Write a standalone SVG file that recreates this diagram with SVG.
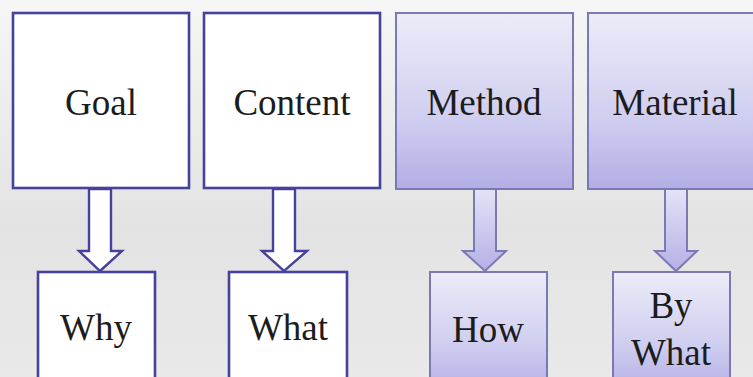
<svg xmlns="http://www.w3.org/2000/svg" width="753" height="377" viewBox="0 0 753 377">
<defs>
<linearGradient id="bg" x1="0" y1="0" x2="0" y2="1">
<stop offset="0" stop-color="#f6f6f6"/>
<stop offset="0.6" stop-color="#e3e3e3"/>
<stop offset="1" stop-color="#e9e9e9"/>
</linearGradient>
<linearGradient id="pur" x1="0" y1="0" x2="0" y2="1">
<stop offset="0" stop-color="#ececf8"/>
<stop offset="0.6" stop-color="#d0cef0"/>
<stop offset="1" stop-color="#b2aee5"/>
</linearGradient>
<linearGradient id="purArrow" x1="0" y1="0" x2="0" y2="1">
<stop offset="0" stop-color="#e4e3f6"/>
<stop offset="1" stop-color="#b4b0e6"/>
</linearGradient>
<style>
.wbox{fill:#ffffff;stroke:#45419c;stroke-width:2.6}
.pbox{fill:url(#pur);stroke:#7b78b4;stroke-width:2}
.warr{fill:#ffffff;stroke:#45419c;stroke-width:2.4;stroke-linejoin:miter}
.parr{fill:url(#purArrow);stroke:#7b78b4;stroke-width:2}
text{font-size:37px;fill:#1c1c1c;text-anchor:middle}
</style>
</defs>
<rect x="0" y="0" width="753" height="377" fill="url(#bg)"/>
<g id="connectors">
<path class="warr" d="M89,189 L111,189 L111,251 L122,251 L100,271 L79,251 L89,251 Z"/>
<path class="warr" d="M273,189 L295,189 L295,251 L307,251 L284,271 L262,251 L273,251 Z"/>
<path class="parr" d="M474,189 L496,189 L496,251 L506,251 L485,271 L463,251 L474,251 Z"/>
<path class="parr" d="M665,189 L687,189 L687,251 L697,251 L676,271 L655,251 L665,251 Z"/>
</g>
<g id="goal"><rect class="wbox" x="13" y="13" width="176" height="175"/><text x="101" y="115" font-family="Liberation Serif, serif">Goal</text></g>
<g id="content"><rect class="wbox" x="204" y="13" width="176" height="175"/><text x="292" y="115" font-family="Liberation Serif, serif">Content</text></g>
<g id="method"><rect class="pbox" x="396" y="13" width="177" height="176"/><text x="484" y="115" font-family="Liberation Serif, serif">Method</text></g>
<g id="material"><rect class="pbox" x="588" y="13" width="177" height="176"/><text x="675" y="115" font-family="Liberation Serif, serif">Material</text></g>
<g id="why"><rect class="wbox" x="38" y="272" width="117" height="120"/><text x="96" y="340" font-family="Liberation Serif, serif">Why</text></g>
<g id="what"><rect class="wbox" x="229" y="272" width="118" height="120"/><text x="288" y="340" font-family="Liberation Serif, serif">What</text></g>
<g id="how"><rect class="pbox" x="430" y="272" width="117" height="120"/><text x="488" y="342" font-family="Liberation Serif, serif">How</text></g>
<g id="bywhat"><rect class="pbox" x="613" y="272" width="117" height="120"/><text x="671" y="318" font-family="Liberation Serif, serif">By</text><text x="671" y="365" font-family="Liberation Serif, serif">What</text></g>
</svg>
